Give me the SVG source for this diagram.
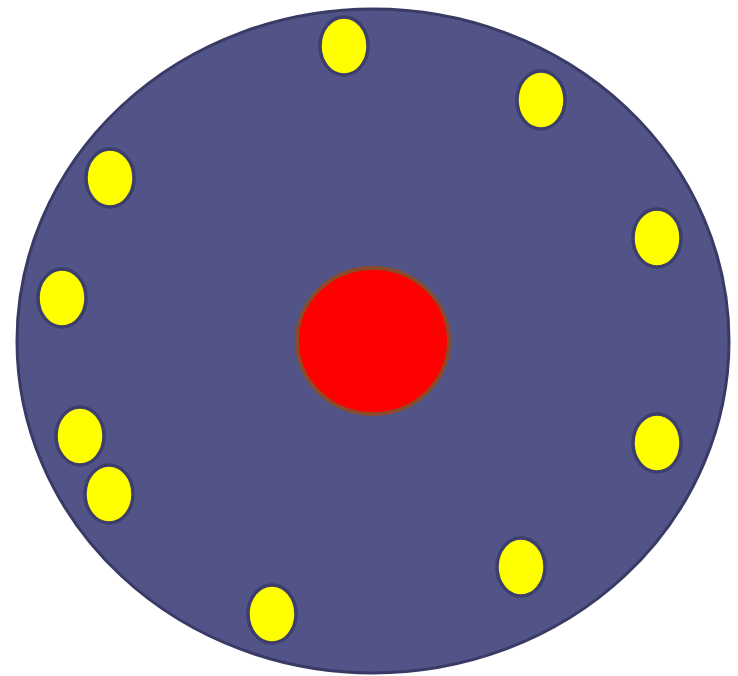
<svg xmlns="http://www.w3.org/2000/svg" width="738" height="676" viewBox="0 0 738 676">
<style>
.disk{fill:#525488;stroke:#393b66;stroke-width:3}
.core{fill:#ff0000;stroke:#8b4a2a;stroke-width:4}
.dot{fill:#ffff00;stroke:#3d3e6b;stroke-width:3.5}
</style>
<rect width="738" height="676" fill="#ffffff"/>
<ellipse class="disk" cx="373" cy="341" rx="356" ry="332"/>
<ellipse class="core" cx="373" cy="341" rx="76" ry="73"/>
<ellipse class="dot" cx="344" cy="46" rx="24" ry="29"/>
<ellipse class="dot" cx="541" cy="100" rx="24" ry="29"/>
<ellipse class="dot" cx="110" cy="178" rx="24" ry="29"/>
<ellipse class="dot" cx="657" cy="238" rx="24" ry="29"/>
<ellipse class="dot" cx="62" cy="298" rx="24" ry="29"/>
<ellipse class="dot" cx="80" cy="436" rx="24" ry="29"/>
<ellipse class="dot" cx="109" cy="494" rx="24" ry="29"/>
<ellipse class="dot" cx="657" cy="443" rx="24" ry="29"/>
<ellipse class="dot" cx="521" cy="567" rx="24" ry="29"/>
<ellipse class="dot" cx="272" cy="614" rx="24" ry="29"/>
</svg>
